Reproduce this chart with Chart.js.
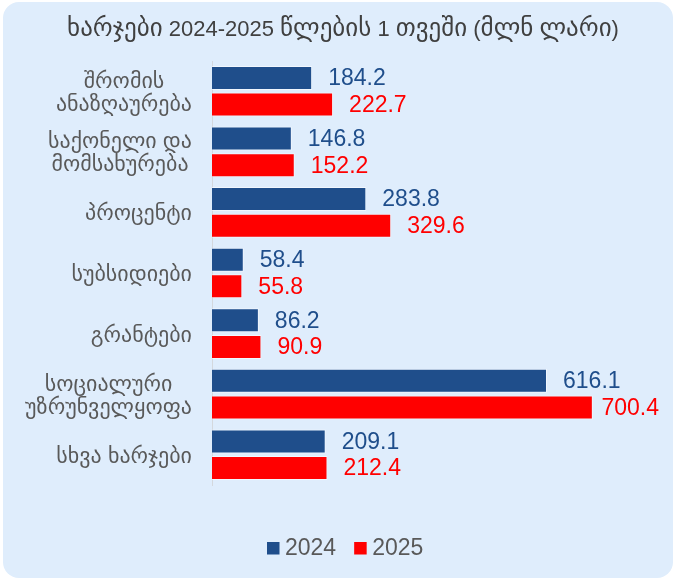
<!DOCTYPE html>
<html>
<head>
<meta charset="utf-8">
<script src="https://cdn.jsdelivr.net/npm/chart.js@4"></script>
<style>
  html, body { margin: 0; padding: 0; background: #fff; }
  #card {
    position: absolute; left: 3px; top: 2px; width: 670px; height: 576px;
    background: #dfedfc; border-radius: 16px;
  }
  #wrap { position: absolute; left: 0; top: 0; width: 675px; height: 580px; }
</style>
</head>
<body>
<div id="card"></div>
<div id="wrap"><canvas id="expChart" width="675" height="580"></canvas></div>
<script>
// ─── Data ──────────────────────────
const title = 'ხარჯები 2024-2025 წლების 1 თვეში (მლნ ლარი)';
const categories = [
    ['შრომის', 'ანაზღაურება'],
    ['საქონელი და', 'მომსახურება'],
    ['პროცენტი'],
    ['სუბსიდიები'],
    ['გრანტები'],
    ['სოციალური', 'უზრუნველყოფა'],
    ['სხვა ხარჯები']
];
const years = ['2024', '2025'];
const values2024 = [184.2, 146.8, 283.8, 58.4, 86.2, 616.1, 209.1];
const values2025 = [222.7, 152.2, 329.6, 55.8, 90.9, 700.4, 212.4];

const BLUE = '#1f4e8b';
const RED = '#ff0000';
const FONT = '"Liberation Sans", "DejaVu Sans", sans-serif';

// Georgian glyphs get a bigger size than digits (DejaVu's Georgian runs small)
function splitRuns(text, latinSize, geoSize) {
    return text.split(/([\u10A0-\u10FF]+)/).filter(s => s).map(s => ({
        s, font: (/[\u10A0-\u10FF]/.test(s) ? geoSize : latinSize) + 'px ' + FONT
    }));
}

function drawMixed(ctx, text, cx, y, latinSize, geoSize) {
    const runs = splitRuns(text, latinSize, geoSize);
    let total = 0;
    runs.forEach(r => { ctx.font = r.font; r.w = ctx.measureText(r.s).width; total += r.w; });
    let x = cx - total / 2;
    ctx.textAlign = 'left';
    runs.forEach(r => { ctx.font = r.font; ctx.fillText(r.s, x, y); x += r.w; });
}

const labelPlugin = {
    id: 'handLabels',
    afterDraw(chart) {
        const ctx = chart.ctx;
        const yScale = chart.scales.y;
        ctx.save();

        // title
        ctx.fillStyle = '#404040';
        ctx.textBaseline = 'alphabetic';
        drawMixed(ctx, title, 343, 36, 22, 25);

        // category labels: block right-aligned, lines centred inside the block
        ctx.font = '22px ' + FONT;
        ctx.fillStyle = '#595959';
        ctx.textAlign = 'center';
        ctx.textBaseline = 'middle';
        categories.forEach((lines, i) => {
            const cy = yScale.getPixelForTick(i) + 2;
            const widest = Math.max(...lines.map(l => ctx.measureText(l).width));
            const cx = 192 - widest / 2;
            lines.forEach((l, j) => {
                ctx.fillText(l, cx, cy + (j - (lines.length - 1) / 2) * 23);
            });
        });

        // value labels
        ctx.font = '23px ' + FONT;
        ctx.textAlign = 'left';
        chart.data.datasets.forEach((ds, di) => {
            ctx.fillStyle = ds.backgroundColor;
            chart.getDatasetMeta(di).data.forEach((bar, i) => {
                const txt = ds.data[i].toFixed(1);
                const w = ctx.measureText(txt).width;
                const x = Math.min(bar.x + 16, 659 - w);
                ctx.fillText(txt, x, bar.y + 1);
            });
        });

        // legend
        let lx = 267;
        const ly = 548;
        chart.data.datasets.forEach(ds => {
            ctx.fillStyle = ds.backgroundColor;
            ctx.fillRect(lx, ly - 6, 12.5, 12.5);
            ctx.fillStyle = '#595959';
            ctx.fillText(ds.label, lx + 18, ly + 1);
            lx += 18 + ctx.measureText(ds.label).width + 18;
        });

        ctx.restore();
    }
};

const ctxExp = document.getElementById('expChart').getContext('2d');

new Chart(ctxExp, {
    type: 'bar',
    data: {
        labels: categories,
        datasets: [
            {
                label: years[0],
                data: values2024,
                backgroundColor: BLUE,
                borderColor: 'rgba(255,255,255,0.55)',
                borderWidth: 1,
                categoryPercentage: 0.88,
                barPercentage: 0.9
            },
            {
                label: years[1],
                data: values2025,
                backgroundColor: RED,
                borderColor: 'rgba(255,255,255,0.55)',
                borderWidth: 1,
                categoryPercentage: 0.88,
                barPercentage: 0.9
            }
        ]
    },
    options: {
        indexAxis: 'y',
        responsive: false,
        animation: false,
        layout: { padding: { top: 61, left: 0, right: 28, bottom: 95 } },
        plugins: {
            legend: { display: false },
            tooltip: { enabled: false },
            title: { display: false }
        },
        scales: {
            x: {
                display: false,
                min: 0,
                max: 800
            },
            y: {
                ticks: { display: false },
                grid: { display: false },
                border: { display: true, color: '#d4d8dd', width: 1 },
                afterFit: s => { s.width = 212; }
            }
        }
    },
    plugins: [labelPlugin]
});
</script>
</body>
</html>
